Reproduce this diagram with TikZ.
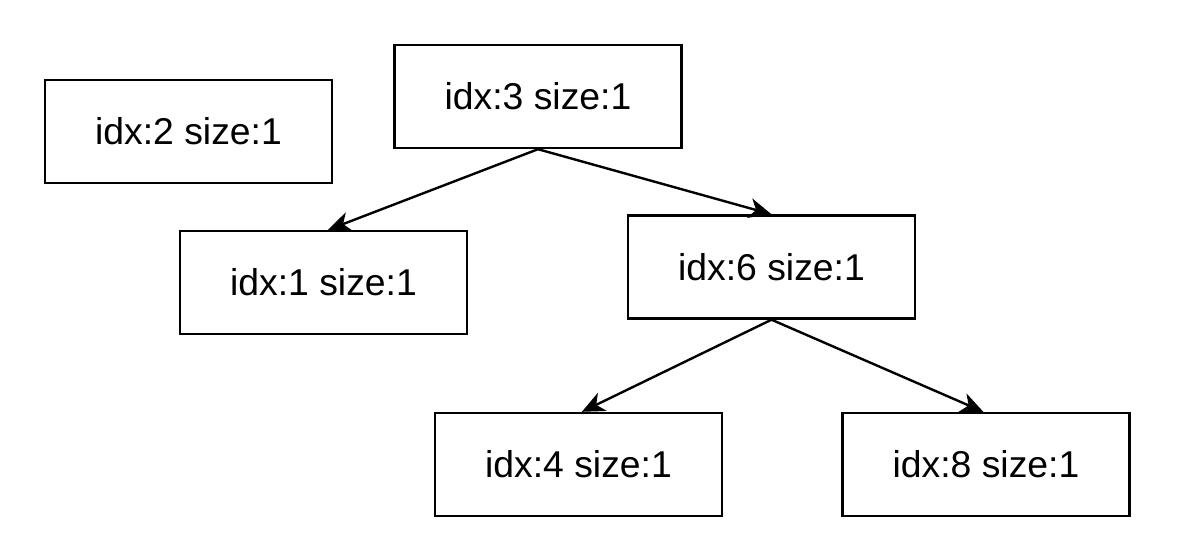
\documentclass[tikz,border=0pt]{standalone}
\usepackage{fontspec}
\setmainfont{Liberation Sans}
\usetikzlibrary{arrows.meta}
\begin{document}
\begin{tikzpicture}[x=0.75pt,y=-0.75pt,
  box/.style={draw,line width=1.8pt,minimum width=215.25pt,minimum height=77.25pt,inner sep=0pt,font=\fontsize{28pt}{32pt}\selectfont},
  edge/.style={line width=1.8pt,-{Stealth[length=17pt,width=15pt,inset=5pt]}}]
\useasboundingbox (0,0) rectangle (1198,546);
\node[box] (n2) at (188.5,131.5) {idx:2 size:1};
\node[box] (n3) at (538,96.5) {idx:3 size:1};
\node[box] (n1) at (323.5,282.5) {idx:1 size:1};
\node[box] (n6) at (771.5,267) {idx:6 size:1};
\node[box] (n4) at (578.5,464.5) {idx:4 size:1};
\node[box] (n8) at (986,464.5) {idx:8 size:1};
\draw[edge] (n3.south) -- ([xshift=3.5pt]n1.north);
\draw[edge] (n3.south) -- (n6.north);
\draw[edge] (n6.south) -- ([xshift=2.5pt]n4.north);
\draw[edge] (n6.south) -- ([xshift=-2pt]n8.north);
\end{tikzpicture}
\end{document}
